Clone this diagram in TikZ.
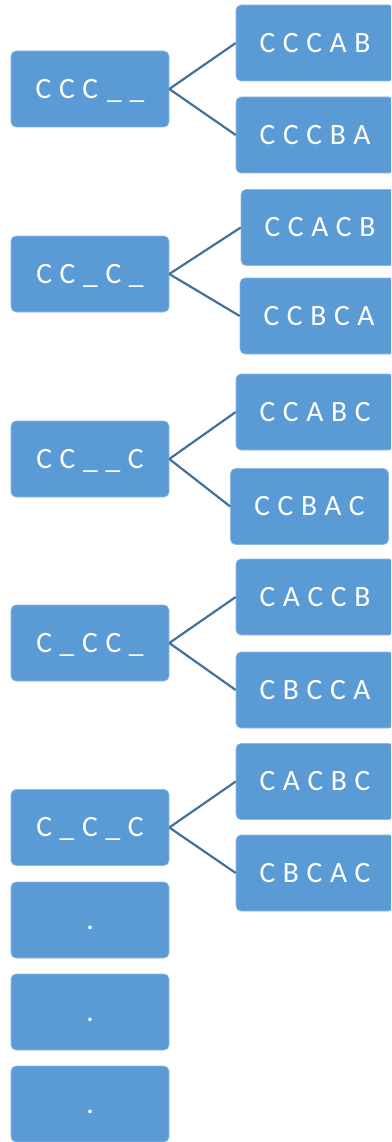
\documentclass[tikz,border=0pt]{standalone}
\usepackage{fontspec}
\setmainfont{Carlito}[LetterSpace=26]
\definecolor{boxblue}{HTML}{5B9BD5}
\definecolor{boxedge}{HTML}{8FB9E3}
\definecolor{linkblue}{HTML}{41719C}
\tikzset{
  cell/.style={rectangle, rounded corners=5pt, fill=boxblue, draw=boxedge,
    line width=0.6pt, minimum width=158pt, minimum height=76pt, inner sep=0pt,
    text=white, font=\fontsize{29.5}{33}\selectfont,
    text height=18.6pt, text depth=0pt},
  link/.style={draw=linkblue, line width=2.2pt}
}
\begin{document}
\begin{tikzpicture}[x=1pt,y=-1pt]
\useasboundingbox (0,0) rectangle (391,1142);
\clip (0,0) rectangle (391,1142);

% patterns with blanks (left column)
\node[cell] (l1) at (90,89)     {CCC\hspace{9pt}\_\_};
\node[cell] (l2) at (90,274)    {CC\_C\_};
\node[cell] (l3) at (90,459)    {CC\_\_C};
\node[cell] (l4) at (90,643)    {C\_CC\_};
\node[cell] (l5) at (90,827.5)  {C\_C\_C};
\node[cell] (l6) at (90,920)    {.};
\node[cell] (l7) at (90,1012)   {.};
\node[cell] (l8) at (90,1104)   {.};

% filled-in arrangements (right column)
\node[cell] (r1a) at (315,43)    {CCCAB};
\node[cell] (r1b) at (315,135)   {CCCBA};
\node[cell] (r2a) at (320,227.5) {CCACB};
\node[cell] (r2b) at (319,316)   {CCBCA};
\node[cell] (r3a) at (315,412)   {CCABC};
\node[cell] (r3b) at (309.5,506.5) {CCBAC};
\node[cell] (r4a) at (315,597)   {CACCB};
\node[cell] (r4b) at (315,690)   {CBCCA};
\node[cell] (r5a) at (315,781.5) {CACBC};
\node[cell] (r5b) at (315,873)   {CBCAC};

% branches
\foreach \i in {1,...,5} {
  \draw[link] (l\i.east) -- (r\i a.west);
  \draw[link] (l\i.east) -- (r\i b.west);
}
\end{tikzpicture}
\end{document}
